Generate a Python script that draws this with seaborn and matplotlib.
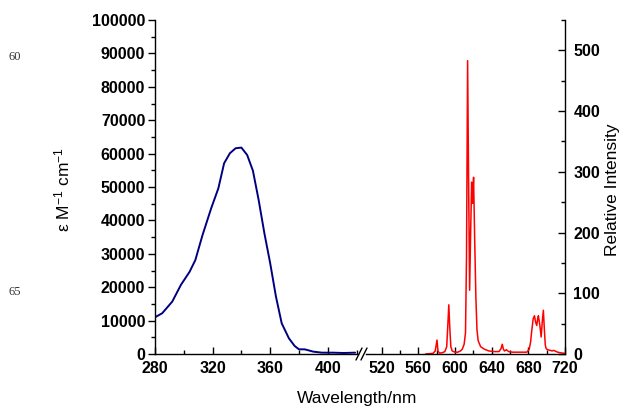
import matplotlib
matplotlib.use('Agg')
import matplotlib.pyplot as plt
import seaborn as sns
import pandas as pd
from matplotlib.ticker import MultipleLocator
from matplotlib.lines import Line2D

# absorption spectrum (left segment of the broken axis)
abs_wl = [280, 285, 292, 298, 304, 308, 313, 319, 324, 328, 332, 336, 340, 344,
          348, 352, 356, 360, 364, 368, 373, 377, 380, 384, 390, 396, 404, 411, 419]
abs_eps = [11000, 12200, 15700, 20700, 24600, 28100, 35600, 43600, 49600, 57100,
           60100, 61600, 61800, 59600, 54900, 46100, 36100, 27200, 17200, 9200,
           4700, 2400, 1400, 1400, 700, 400, 400, 300, 400]

# emission spectrum (right segment)
em_wl = [568, 572, 576, 578.5, 580.4, 581.5, 583, 586, 589, 591, 592.3, 593.3, 594.3,
         595.5, 597, 600, 603, 606, 608, 610, 611.5, 612.6, 613.8, 614.9, 616.0,
         617.1, 618.2, 619.2, 620.3, 621.5, 622.8, 624, 625.3, 628, 632, 637, 642.6,
         648, 650.3, 651.6, 652.8, 654, 656.1, 658.6, 663, 668, 674, 678.4, 681,
         682.5, 683.8, 685.3, 686.7, 688, 689.2, 690.2, 691, 692.5, 694, 695.3,
         696.4, 697.5, 698.5, 699.4, 701, 704, 706, 707.5, 709, 712, 715, 720]
em_int = [0, 0.5, 1, 5, 23, 5, 1.5, 2, 4, 12, 50, 81, 45,
          12, 5, 3, 3, 5, 8, 16, 35, 160, 483, 280, 105,
          200, 283, 248, 291, 190, 94, 40, 22, 12, 8, 5, 4,
          4, 9, 16, 8, 5, 7, 4, 3, 3, 3, 3, 8,
          20, 39, 58, 63, 52, 47, 58, 63, 48, 28, 55,
          72, 40, 15, 9, 7, 6, 5, 6, 5, 3, 2, 1]

x_ticks_left = [280, 320, 360, 400]
x_ticks_right = [520, 560, 600, 640, 680, 720]

df_abs = pd.DataFrame({'wl': abs_wl, 'eps': abs_eps})
df_em = pd.DataFrame({'wl': em_wl, 'I': em_int})

sns.set_style('ticks')
plt.rcParams['font.family'] = ['Liberation Sans', 'DejaVu Sans']
plt.rcParams['mathtext.default'] = 'regular'
for key in ('text.color', 'axes.labelcolor', 'xtick.color', 'ytick.color', 'axes.edgecolor'):
    plt.rcParams[key] = 'black'

W, H = 625, 411
fig = plt.figure(figsize=(6.25, 4.11), dpi=100)
ax1 = fig.add_axes([155 / W, 1 - 354 / H, 203 / W, 334 / H])
ax2 = fig.add_axes([366 / W, 1 - 354 / H, 199 / W, 334 / H])
ax1.patch.set_alpha(0)
ax2.patch.set_alpha(0)

sns.lineplot(data=df_abs, x='wl', y='eps', ax=ax1, color='#000080', lw=1.4)
sns.lineplot(data=df_em, x='wl', y='I', ax=ax2, color='#ff0000', lw=1.1)

# left part
ax1.set_xlim(280, 421)
ax1.set_ylim(0, 100000)
ax1.set_xticks(x_ticks_left)
ax1.set_yticks(range(0, 100001, 10000))
ax1.xaxis.set_minor_locator(MultipleLocator(20))
ax1.yaxis.set_minor_locator(MultipleLocator(5000))
ax1.spines['top'].set_visible(False)
ax1.spines['right'].set_visible(False)
ax1.tick_params(axis='y', which='both', direction='out', pad=2, labelsize=11.5)
ax1.tick_params(axis='x', which='both', direction='in', pad=5, labelsize=11.5)
ax1.set_xlabel('')
ax1.set_ylabel('')

# right part
ax2.set_xlim(503, 720)
ax2.set_ylim(0, 550)
ax2.set_xticks(x_ticks_right)
ax2.set_yticks(range(0, 501, 100))
ax2.xaxis.set_minor_locator(MultipleLocator(20))
ax2.yaxis.set_minor_locator(MultipleLocator(50))
ax2.yaxis.tick_right()
ax2.spines['top'].set_visible(False)
ax2.spines['left'].set_visible(False)
ax2.tick_params(axis='y', which='both', direction='in', pad=6, labelsize=11.5,
                left=False, right=True)
ax2.tick_params(axis='x', which='both', direction='in', pad=5, labelsize=11.5)
ax2.set_xlabel('')
ax2.set_ylabel('')

for ax in (ax1, ax2):
    ax.tick_params(which='major', length=5, width=1, color='black')
    ax.tick_params(which='minor', length=3, width=1, color='black')
    for sp in ax.spines.values():
        sp.set_linewidth(1)
        sp.set_color('black')
    for lab in ax.get_xticklabels() + ax.get_yticklabels():
        lab.set_fontweight('bold')

# axis break marks
for x0 in (356, 361):
    fig.add_artist(Line2D([x0 / W, (x0 + 6) / W], [1 - 360 / H, 1 - 348 / H],
                          color='black', lw=1))

fig.text(357 / W, 1 - 398 / H, 'Wavelength/nm', ha='center', va='center', fontsize=12.5)
fig.text(62 / W, 1 - 190 / H, r'ε M$^{-1}$ cm$^{-1}$', rotation=90,
         ha='center', va='center', fontsize=12.5)
fig.text(613 / W, 1 - 190 / H, 'Relative Intensity', rotation=90,
         ha='center', va='center', fontsize=12.5)

# margin line numbers of the source page
fig.text(15 / W, 1 - 57 / H, '60', ha='center', va='center', fontsize=9,
         family='Liberation Serif', color='#333333')
fig.text(15 / W, 1 - 292 / H, '65', ha='center', va='center', fontsize=9,
         family='Liberation Serif', color='#333333')

fig.savefig('out.png', dpi=100)
